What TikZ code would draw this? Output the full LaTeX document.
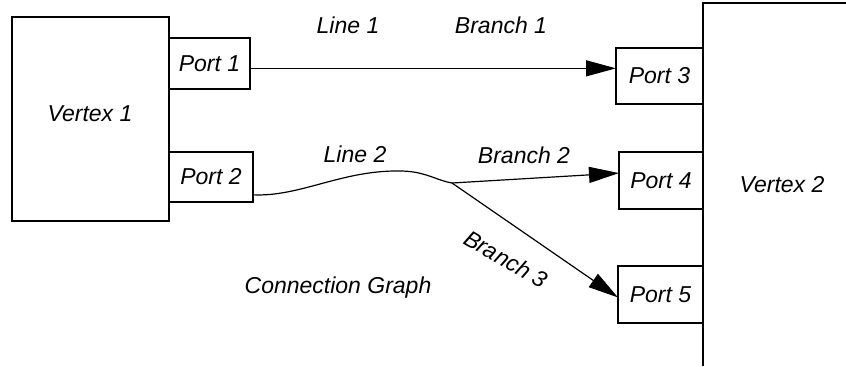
\documentclass[tikz,border=0pt]{standalone}
\usepackage{fontspec}
\setmainfont{Liberation Sans}
\usetikzlibrary{arrows.meta}
\tikzset{
  box/.style={draw, line width=1.2bp, inner sep=0pt, outer sep=0pt},
  txt/.style={font=\fontsize{23bp}{27bp}\selectfont\itshape, inner sep=0pt},
  conn/.style={line width=1.2bp},
  arr/.style={conn, -{Triangle[length=30bp, width=16bp]}}
}
\begin{document}
\begin{tikzpicture}[x=1bp, y=-1bp]
  \useasboundingbox (0,0) rectangle (846,366);

  % left vertex and its ports
  \node[box, minimum width=157bp, minimum height=204bp] (V1) at (90.5,119) {};
  \node[txt, anchor=base] (V1t) at (90,121) {Vertex 1};
  \node[box, txt, minimum width=81bp, minimum height=51bp] (P1) at (209.5,63.5) {Port 1};
  \node[box, txt, minimum width=84bp, minimum height=50bp] (P2) at (211,177) {Port 2};

  % right vertex, open to the right and below
  \coordinate (V2a) at (846,3);
  \coordinate (V2b) at (703,3);
  \coordinate (V2c) at (703,366);
  \draw[line width=1.2bp] (V2a) -- (V2b) -- (V2c);
  \node[txt, anchor=base] (V2t) at (782,192) {Vertex 2};
  \node[box, txt, minimum width=87bp, minimum height=56bp] (P3) at (659.5,76) {Port 3};
  \node[box, txt, minimum width=84bp, minimum height=57bp] (P4) at (661,180.5) {Port 4};
  \node[box, txt, minimum width=85bp, minimum height=57bp] (P5) at (660.5,294.5) {Port 5};

  % line 1 with its single branch
  \draw[arr] (P1.east |- P3.170) -- (P3.170);

  % line 2 splits into two branches
  \coordinate (J) at (452,183);
  \draw[conn] (P2.-23) .. controls (300,197) and (342,170) .. (400,171)
                       .. controls (425,171) and (438,181) .. (J);
  \draw[arr] (J) -- (P4.170);
  \draw[arr] (J) -- (P5.184);

  % labels
  \node[txt, anchor=base] (L1) at (348,33) {Line 1};
  \node[txt, anchor=base] (B1) at (501,33) {Branch 1};
  \node[txt, anchor=base] (L2) at (355,162) {Line 2};
  \node[txt, anchor=base] (B2) at (524,163) {Branch 2};
  \node[txt, rotate=-30] (B3) at (506,259) {Branch 3};
  \node[txt, anchor=base] (CG) at (338,293) {Connection Graph};
\end{tikzpicture}
\end{document}
